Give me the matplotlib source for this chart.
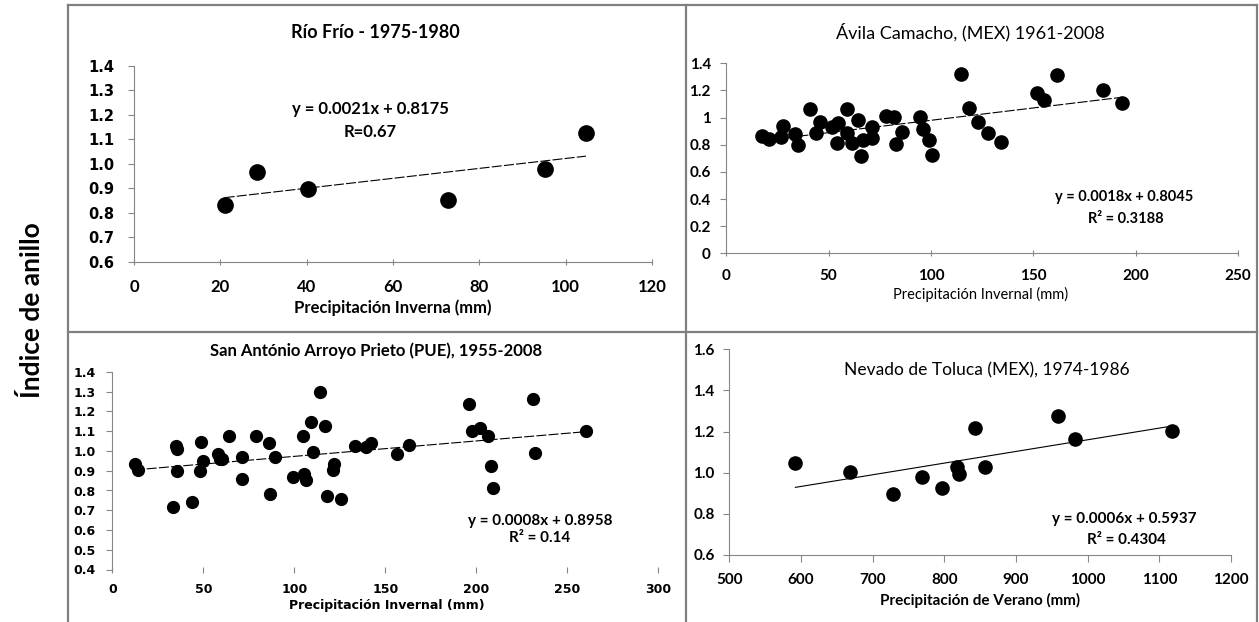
import numpy as np
import matplotlib
matplotlib.use("Agg")
import matplotlib.pyplot as plt
from matplotlib.lines import Line2D

# --- data ---
# Rio Frio 1975-1980 (winter precipitation)
rio_precip = [21.0, 28.4, 40.3, 72.8, 95.1, 104.7]
rio_index = [0.832, 0.965, 0.897, 0.852, 0.979, 1.125]

# Avila Camacho 1961-2008 (winter precipitation)
avila_precip = [17.5, 20.8, 26.6, 27.7, 33.4, 35.2, 41.0, 43.9, 45.7, 51.9,
                54.8, 54.0, 59.1, 59.1, 61.5, 64.2, 66.0, 66.9, 71.0, 71.0,
                78.3, 81.9, 83.2, 85.9, 94.5, 96.3, 98.9, 100.7, 114.8, 118.4,
                123.1, 127.8, 134.3, 151.8, 155.5, 161.4, 184.0, 193.4]
avila_index = [0.864, 0.840, 0.860, 0.941, 0.879, 0.798, 1.061, 0.884, 0.968, 0.928,
               0.963, 0.815, 1.061, 0.884, 0.810, 0.982, 0.717, 0.835, 0.933, 0.847,
               1.012, 1.007, 0.806, 0.896, 1.002, 0.914, 0.835, 0.724, 1.321, 1.068,
               0.970, 0.889, 0.823, 1.179, 1.130, 1.314, 1.203, 1.105]

# San Antonio Arroyo Prieto 1955-2008 (winter precipitation)
sanan_precip = [12.2, 14.0, 34.9, 35.7, 35.3, 33.6, 44.0, 48.7, 49.8, 48.1,
                58.0, 59.1, 60.5, 64.2, 71.5, 71.5, 79.1, 86.0, 86.6, 89.5,
                99.4, 104.9, 105.6, 106.2, 109.1, 110.1, 113.9, 117.0, 118.0, 121.1,
                121.7, 125.7, 133.1, 139.3, 142.4, 156.3, 162.9, 196.2, 197.6, 201.8,
                206.5, 208.0, 209.0, 231.1, 232.4, 260.3]
sanan_index = [0.935, 0.906, 1.026, 1.012, 0.897, 0.717, 0.741, 1.048, 0.949, 0.897,
               0.983, 0.961, 0.961, 1.074, 0.971, 0.858, 1.074, 1.038, 0.783, 0.971,
               0.868, 1.078, 0.885, 0.855, 1.146, 0.997, 1.300, 1.129, 0.772, 0.903,
               0.935, 0.757, 1.026, 1.021, 1.038, 0.983, 1.029, 1.240, 1.103, 1.115,
               1.074, 0.923, 0.815, 1.261, 0.992, 1.103]

# Nevado de Toluca 1974-1986 (summer precipitation)
toluca_precip = [592.3, 668.7, 728.5, 769.3, 796.6, 817.2, 819.8, 842.5, 857.0,
                 959.1, 982.3, 1117.5]
toluca_index = [1.049, 1.002, 0.897, 0.978, 0.924, 1.029, 0.994, 1.216, 1.026,
                1.276, 1.164, 1.205]

rio_xticks = [0, 20, 40, 60, 80, 100, 120]
rio_yticks = [0.6, 0.7, 0.8, 0.9, 1.0, 1.1, 1.2, 1.3, 1.4]
avila_xticks = [0, 50, 100, 150, 200, 250]
avila_yticks = [0, 0.2, 0.4, 0.6, 0.8, 1.0, 1.2, 1.4]
avila_ylabels = ["0", "0.2", "0.4", "0.6", "0.8", "1", "1.2", "1.4"]
sanan_xticks = [0, 50, 100, 150, 200, 250, 300]
sanan_yticks = [0.4, 0.5, 0.6, 0.7, 0.8, 0.9, 1.0, 1.1, 1.2, 1.3, 1.4]
toluca_xticks = [500, 600, 700, 800, 900, 1000, 1100, 1200]
toluca_yticks = [0.6, 0.8, 1.0, 1.2, 1.4, 1.6]

W, H = 1259, 622
CAL = ["Lato", "DejaVu Sans"]
VER = ["DejaVu Sans"]
SPINE = "#868686"

fig = plt.figure(figsize=(W / 100, H / 100), dpi=100)


def box(l, r, t, b):
    return [l / W, 1 - b / H, (r - l) / W, (b - t) / H]


def ftext(x, y, s, **kw):
    fig.text(x / W, 1 - y / H, s, ha="center", va="center", **kw)


def style_axes(ax, xfont, yfont, xsize, ysize, xpad, ypad, xdir="out", show_xline=True):
    for side in ["top", "right"]:
        ax.spines[side].set_visible(False)
    ax.spines["left"].set_color(SPINE)
    ax.spines["bottom"].set_color(SPINE)
    ax.spines["bottom"].set_visible(show_xline)
    ax.tick_params(axis="x", direction=xdir, length=5, color=SPINE, pad=xpad)
    ax.tick_params(axis="y", direction="out", length=4, color=SPINE, pad=ypad)
    for lab in ax.get_xticklabels():
        lab.set_family(xfont)
        lab.set_fontsize(xsize)
        lab.set_fontweight("bold")
    for lab in ax.get_yticklabels():
        lab.set_family(yfont)
        lab.set_fontsize(ysize)
        lab.set_fontweight("bold")


def trend(ax, x, y, ls):
    x = np.array(x)
    k, b = np.polyfit(x, np.array(y), 1)
    xs = np.array([x.min(), x.max()])
    ax.plot(xs, k * xs + b, color="black", lw=0.8, linestyle=ls, zorder=2)


dash = (0, (9, 2))

# --- panel 1: Rio Frio ---
ax1 = fig.add_axes(box(134, 652, 66, 261.7))
ax1.plot(rio_precip, rio_index, "o", color="black", ms=11, zorder=3)
trend(ax1, rio_precip, rio_index, dash)
ax1.set_xlim(0, 120)
ax1.set_ylim(0.6, 1.4)
ax1.set_xticks(rio_xticks)
ax1.set_yticks(rio_yticks)
ax1.set_yticklabels(["%.1f" % v for v in rio_yticks])
style_axes(ax1, CAL, VER, 12, 10.5, 10, 10, xdir="inout")
ftext(375, 32, "Río Frío - 1975-1980", family=CAL, fontsize=13, fontweight="bold")
ftext(370, 109, "y = 0.0021x + 0.8175", family=CAL, fontsize=12, fontweight="bold")
ftext(370, 132, "R=0.67", family=CAL, fontsize=12, fontweight="bold")
ftext(393, 308, "Precipitación Inverna (mm)", family=CAL, fontsize=12, fontweight="bold")

# --- panel 2: Avila Camacho ---
ax2 = fig.add_axes(box(726.2, 1237.9, 63.3, 253.3))
ax2.plot(avila_precip, avila_index, "o", color="black", ms=9.5, zorder=3)
trend(ax2, avila_precip, avila_index, dash)
ax2.set_xlim(0, 250)
ax2.set_ylim(0, 1.4)
ax2.set_xticks(avila_xticks)
ax2.set_yticks(avila_yticks)
ax2.set_yticklabels(avila_ylabels)
style_axes(ax2, CAL, CAL, 11, 11, 9, 7, xdir="inout")
ftext(970, 32, "Ávila Camacho, (MEX) 1961-2008", family=CAL, fontsize=13)
ftext(1124, 197, "y = 0.0018x + 0.8045", family=CAL, fontsize=10.5, fontweight="bold")
ftext(1126, 219, "R² = 0.3188", family=CAL, fontsize=10.5, fontweight="bold")
ftext(981, 294, "Precipitación Invernal (mm)", family=CAL, fontsize=10.5)

# --- panel 3: San Antonio Arroyo Prieto ---
ax3 = fig.add_axes(box(112.3, 658.3, 372, 569.5))
ax3.plot(sanan_precip, sanan_index, "o", color="black", ms=8.5, zorder=3)
trend(ax3, sanan_precip, sanan_index, dash)
ax3.set_xlim(0, 300)
ax3.set_ylim(0.4, 1.4)
ax3.set_xticks(sanan_xticks)
ax3.set_yticks(sanan_yticks)
ax3.set_yticklabels(["%.1f" % v for v in sanan_yticks])
style_axes(ax3, VER, VER, 9, 9, 7, 8, xdir="inout", show_xline=False)
ftext(376, 351, "San António Arroyo Prieto (PUE), 1955-2008", family=CAL, fontsize=12,
      fontweight="bold")
ftext(540, 521, "y = 0.0008x + 0.8958", family=CAL, fontsize=11, fontweight="bold")
ftext(540, 538, "R² = 0.14", family=CAL, fontsize=11, fontweight="bold")
ftext(387, 605, "Precipitación Invernal (mm)", family=VER, fontsize=9, fontweight="bold")

# --- panel 4: Nevado de Toluca ---
ax4 = fig.add_axes(box(729.2, 1231.2, 349.3, 555))
ax4.plot(toluca_precip, toluca_index, "o", color="black", ms=9.5, zorder=3)
trend(ax4, toluca_precip, toluca_index, "-")
ax4.set_xlim(500, 1200)
ax4.set_ylim(0.6, 1.6)
ax4.set_xticks(toluca_xticks)
ax4.set_yticks(toluca_yticks)
ax4.set_yticklabels(["%.1f" % v for v in toluca_yticks])
style_axes(ax4, CAL, CAL, 11, 11, 8, 6.5)
ftext(987, 370, "Nevado de Toluca (MEX), 1974-1986", family=CAL, fontsize=12.5)
ftext(1124, 519, "y = 0.0006x + 0.5937", family=CAL, fontsize=11, fontweight="bold")
ftext(1126, 540, "R² = 0.4304", family=CAL, fontsize=11, fontweight="bold")
ftext(980, 600, "Precipitación de Verano (mm)", family=CAL, fontsize=11, fontweight="bold")

# shared y label
fig.text(32 / W, 1 - 310 / H, "Índice de anillo", rotation=90, ha="center", va="center",
         family=CAL, fontsize=19, fontweight="bold")

# panel borders
border = dict(color="#808080", lw=1.6, transform=fig.transFigure)
for x in [68, 686, 1257]:
    fig.add_artist(Line2D([x / W, x / W], [0, 1 - 5 / H], **border))
for y in [5, 332]:
    fig.add_artist(Line2D([68 / W, 1257 / W], [1 - y / H, 1 - y / H], **border))

fig.savefig("out.png", dpi=100)
